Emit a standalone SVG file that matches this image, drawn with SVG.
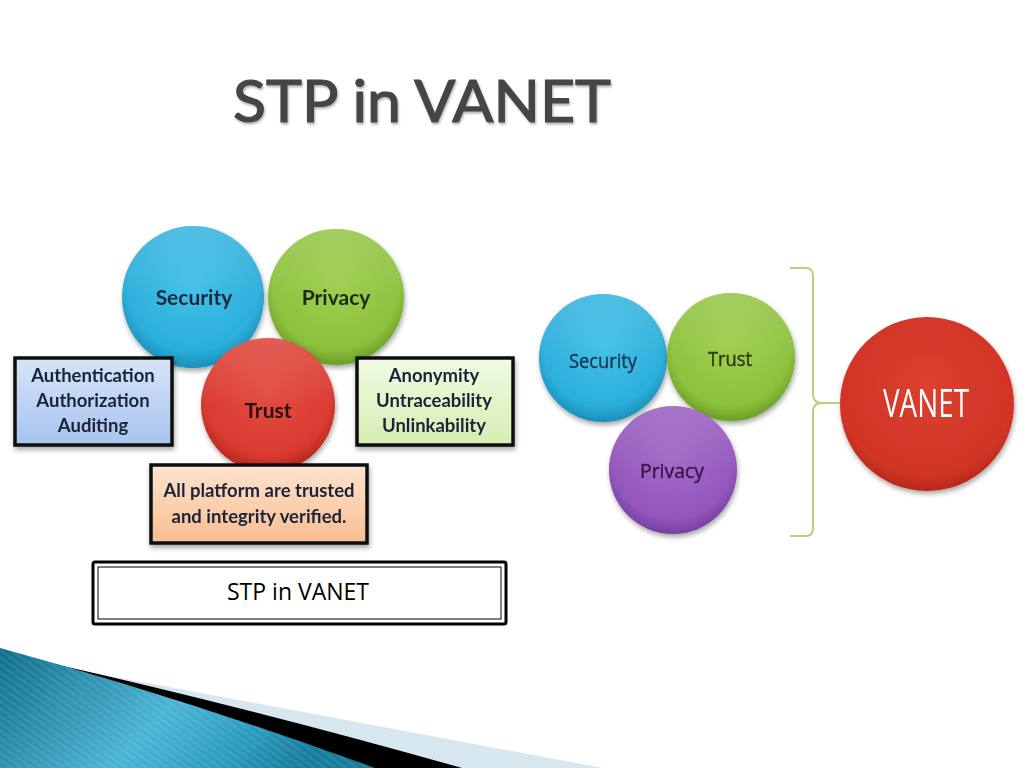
<svg xmlns="http://www.w3.org/2000/svg" width="1024" height="768" viewBox="0 0 1024 768">
<style>
.lbl{font-family:Lato,"Open Sans","Liberation Sans",sans-serif;font-weight:bold;text-anchor:middle}
.box{stroke:#111;stroke-width:3.5}
.rlbl{font-family:"Open Sans","Liberation Sans",sans-serif;text-anchor:middle}
</style>
<defs>
<filter id="sh" x="-20%" y="-20%" width="140%" height="150%">
<feDropShadow dx="1" dy="3" stdDeviation="2.5" flood-color="#000" flood-opacity="0.35"/>
</filter>
<filter id="tsh" x="-5%" y="-10%" width="110%" height="130%">
<feDropShadow dx="1" dy="2" stdDeviation="1.2" flood-color="#000" flood-opacity="0.3"/>
</filter>
<radialGradient id="gBlue" cx="50%" cy="42%" r="58%">
<stop offset="0" stop-color="#3cbfe6"/><stop offset="0.8" stop-color="#29addb"/><stop offset="1" stop-color="#1a8fb8"/>
</radialGradient>
<radialGradient id="gGreen" cx="50%" cy="42%" r="58%">
<stop offset="0" stop-color="#9ccd48"/><stop offset="0.8" stop-color="#8cc03a"/><stop offset="1" stop-color="#6b9e26"/>
</radialGradient>
<radialGradient id="gRed" cx="50%" cy="42%" r="58%">
<stop offset="0" stop-color="#e2473c"/><stop offset="0.8" stop-color="#d9372d"/><stop offset="1" stop-color="#b5261c"/>
</radialGradient>
<radialGradient id="gPurple" cx="50%" cy="42%" r="58%">
<stop offset="0" stop-color="#a064c6"/><stop offset="0.8" stop-color="#9354bb"/><stop offset="1" stop-color="#7440a0"/>
</radialGradient>
<radialGradient id="gVan" cx="50%" cy="40%" r="60%">
<stop offset="0" stop-color="#da4030"/><stop offset="0.85" stop-color="#d13425"/><stop offset="1" stop-color="#b8281a"/>
</radialGradient>
<linearGradient id="gloss" x1="0" y1="0" x2="0" y2="1">
<stop offset="0" stop-color="#fff" stop-opacity="0.18"/><stop offset="0.5" stop-color="#fff" stop-opacity="0.03"/><stop offset="1" stop-color="#fff" stop-opacity="0"/>
</linearGradient>
<linearGradient id="bxBlue" x1="0" y1="0" x2="0" y2="1">
<stop offset="0" stop-color="#d6e4f7"/><stop offset="1" stop-color="#a7c3ef"/>
</linearGradient>
<linearGradient id="bxGreen" x1="0" y1="0" x2="0" y2="1">
<stop offset="0" stop-color="#f1fae3"/><stop offset="1" stop-color="#d5eeb1"/>
</linearGradient>
<linearGradient id="bxOrange" x1="0" y1="0" x2="0" y2="1">
<stop offset="0" stop-color="#fde4cf"/><stop offset="1" stop-color="#f8bd8f"/>
</linearGradient>
<linearGradient id="ribbon" x1="0" y1="0" x2="1" y2="0.3">
<stop offset="0" stop-color="#0f6d89"/><stop offset="0.55" stop-color="#4bb4d5"/><stop offset="0.8" stop-color="#2a9cc0"/><stop offset="1" stop-color="#167c9b"/>
</linearGradient>
<pattern id="stripes" width="6" height="6" patternUnits="userSpaceOnUse" patternTransform="rotate(-55)">
<rect width="3" height="6" fill="#fff" opacity="0.07"/>
</pattern>
</defs>

<rect width="1024" height="768" fill="#fff"/>

<!-- title -->
<text x="422" y="122" font-family="Lato,'Open Sans','Liberation Sans',sans-serif" font-size="58" fill="#454545" stroke="#454545" stroke-width="1.2" text-anchor="middle" textLength="378" lengthAdjust="spacingAndGlyphs" filter="url(#tsh)">STP in VANET</text>

<!-- left diagram -->
<g id="security-left" filter="url(#sh)">
<circle cx="193" cy="297" r="71" fill="url(#gBlue)"/>
<circle cx="193" cy="297" r="71" fill="url(#gloss)"/>
<text class="lbl" x="194" y="305" font-size="21" fill="#1c2a40">Security</text>
</g>
<g id="privacy-left" filter="url(#sh)">
<circle cx="336" cy="297" r="68" fill="url(#gGreen)"/>
<circle cx="336" cy="297" r="68" fill="url(#gloss)"/>
<text class="lbl" x="336" y="305" font-size="21" fill="#1f2a14">Privacy</text>
</g>
<g id="trust-left" filter="url(#sh)">
<circle cx="268" cy="405" r="67" fill="url(#gRed)"/>
<circle cx="268" cy="405" r="67" fill="url(#gloss)"/>
<text class="lbl" x="268" y="418" font-size="21" fill="#2a0e0c">Trust</text>
</g>
<g id="box-security" filter="url(#sh)">
<rect class="box" x="15" y="358" width="157" height="87" fill="url(#bxBlue)"/>
<text class="lbl" font-size="18.5" fill="#1c2438"><tspan x="93" y="382">Authentication</tspan><tspan x="93" y="407">Authorization</tspan><tspan x="93" y="432">Auditing</tspan></text>
</g>
<g id="box-privacy" filter="url(#sh)">
<rect class="box" x="357" y="358" width="156" height="87" fill="url(#bxGreen)"/>
<text class="lbl" font-size="18.5" fill="#1c2438"><tspan x="434" y="382">Anonymity</tspan><tspan x="434" y="407">Untraceability</tspan><tspan x="434" y="432">Unlinkability</tspan></text>
</g>
<g id="box-trust" filter="url(#sh)">
<rect class="box" x="151" y="465" width="216" height="78" fill="url(#bxOrange)"/>
<text class="lbl" font-size="18.5" fill="#1c2438"><tspan x="259" y="497">All platform are trusted</tspan><tspan x="259" y="523">and integrity verified.</tspan></text>
</g>

<!-- caption -->
<g id="caption">
<rect x="93" y="562" width="413" height="62" rx="2" fill="#fff" stroke="#000" stroke-width="3"/>
<rect x="98" y="567" width="403" height="52" fill="none" stroke="#000" stroke-width="1"/>
<text x="298" y="600" font-family="'Open Sans','Liberation Sans',sans-serif" font-size="23" fill="#000" text-anchor="middle">STP in VANET</text>
</g>

<!-- right diagram -->
<g id="security-right" filter="url(#sh)">
<circle cx="603" cy="358" r="64" fill="url(#gBlue)"/>
<circle cx="603" cy="358" r="64" fill="url(#gloss)"/>
<text class="rlbl" x="603" y="368" font-size="20" fill="#1d3550" stroke="#1d3550" stroke-width="0.4" textLength="68" lengthAdjust="spacingAndGlyphs">Security</text>
</g>
<g id="trust-right" filter="url(#sh)">
<circle cx="731" cy="357" r="64" fill="url(#gGreen)"/>
<circle cx="731" cy="357" r="64" fill="url(#gloss)"/>
<text class="rlbl" x="730" y="366" font-size="20" fill="#2a3a12" stroke="#2a3a12" stroke-width="0.4" textLength="44" lengthAdjust="spacingAndGlyphs">Trust</text>
</g>
<g id="privacy-right" filter="url(#sh)">
<circle cx="673" cy="470" r="64" fill="url(#gPurple)"/>
<circle cx="673" cy="470" r="64" fill="url(#gloss)"/>
<text class="rlbl" x="672" y="478" font-size="20" fill="#35184a" stroke="#35184a" stroke-width="0.4" textLength="64" lengthAdjust="spacingAndGlyphs">Privacy</text>
</g>
<g id="vanet" filter="url(#sh)">
<circle cx="927" cy="404" r="87" fill="url(#gVan)"/>
<text class="rlbl" x="926" y="417" font-size="38" fill="#fff" textLength="86" lengthAdjust="spacingAndGlyphs">VANET</text>
</g>

<g id="connectors">
<path d="M790,268 L806,268 Q813,268 813,276 L813,394 Q813,403 822,403 L840,403 M840,403 L822,403 Q813,403 813,412 L813,528 Q813,536 806,536 L790,536" fill="none" stroke="#b8cf7e" stroke-width="2"/>
</g>

<!-- bottom decoration -->
<g id="ribbon-deco">
<path d="M110,676 L603,768 L0,768 L0,660 Z" fill="#d7e7ef"/>
<path d="M50,663 Q250,708 462,768 L0,768 L0,660 Z" fill="#000"/>
<path d="M0,648 Q180,697 375,768 L0,768 Z" fill="url(#ribbon)"/>
<path d="M0,648 Q180,697 375,768 L0,768 Z" fill="url(#stripes)"/>
</g>
</svg>
